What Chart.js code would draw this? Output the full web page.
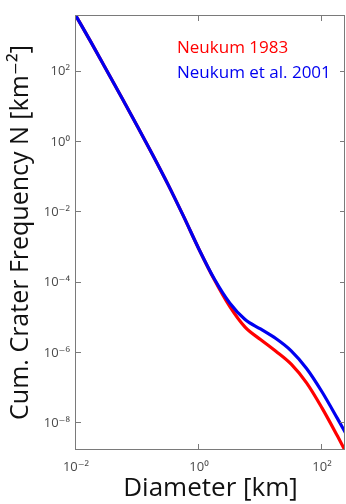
<!DOCTYPE html>
<html>
<head>
<meta charset="utf-8">
<script src="https://cdn.jsdelivr.net/npm/chart.js@4/dist/chart.umd.min.js"></script>
<style>
  html, body { margin: 0; padding: 0; background: #fff; }
  #wrap { width: 346px; height: 504px; position: relative; }
</style>
</head>
<body>
<div id="wrap"><canvas id="craterChart"></canvas></div>
<script>
// crater diameters [km], every quarter decade
const diameters = [0.01, 0.0178, 0.0316, 0.0562, 0.1, 0.178, 0.316, 0.562, 1, 1.78, 3.16, 5.62, 10, 17.8, 31.6, 56.2, 100, 178, 251];

// cumulative crater frequency N [km^-2]
const neukum1983 = [3.8e3, 6.5e2, 1.07e2, 17.4, 2.75, 0.417, 6.0e-2, 7.6e-3, 8.9e-4, 1.2e-4, 2.1e-5, 5.4e-6, 2.4e-6, 1.12e-6, 4.8e-7, 1.41e-7, 2.75e-8, 4.4e-9, 1.41e-9];
const neukum2001 = [3.8e3, 6.5e2, 1.07e2, 17.4, 2.75, 0.417, 6.0e-2, 7.6e-3, 8.9e-4, 1.26e-4, 2.63e-5, 8.9e-6, 4.8e-6, 2.57e-6, 1.15e-6, 3.63e-7, 7.9e-8, 1.38e-8, 4.7e-9];

const seriesLabels = ["Neukum 1983", "Neukum et al. 2001"];
const seriesColors = ["#ff0000", "#0000f0"];

const xTickValues = [0.01, 1, 100];
const xTickLabels = ["10\u207B\u00B2", "10\u2070", "10\u00B2"];
const yTickValues = [1e-8, 1e-6, 1e-4, 1e-2, 1, 100];
const yTickLabels = ["10\u207B\u2078", "10\u207B\u2076", "10\u207B\u2074", "10\u207B\u00B2", "10\u2070", "10\u00B2"];

const FONT = '"Open Sans", "DejaVu Sans", sans-serif';

/* ==================== FRAME + INWARD TICKS + LEGEND ==================== */
const framePlugin = {
  id: "frame",
  afterDraw(chart) {
    const { ctx, chartArea: a, scales } = chart;
    const tick = 5;
    ctx.save();
    ctx.strokeStyle = "#7a7a7a";
    ctx.lineWidth = 1;
    ctx.strokeRect(a.left - 0.5, a.top - 0.5, a.right - a.left, a.bottom - a.top + 1);

    ctx.beginPath();
    xTickValues.forEach((v) => {
      const px = Math.round(scales.x.getPixelForValue(v)) - 0.5;
      ctx.moveTo(px, a.bottom);
      ctx.lineTo(px, a.bottom - tick);
      ctx.moveTo(px, a.top);
      ctx.lineTo(px, a.top + tick);
    });
    yTickValues.forEach((v) => {
      const py = Math.round(scales.y.getPixelForValue(v)) - 0.5;
      ctx.moveTo(a.left, py);
      ctx.lineTo(a.left + tick, py);
      ctx.moveTo(a.right, py);
      ctx.lineTo(a.right - tick, py);
    });
    ctx.stroke();

    // legend text inside the axes, top right
    ctx.font = `17px ${FONT}`;
    ctx.textAlign = "left";
    ctx.textBaseline = "middle";
    chart.data.datasets.forEach((ds, i) => {
      ctx.fillStyle = ds.borderColor;
      ctx.fillText(ds.label, a.left + 101, a.top + 32 + i * 25);
    });
    ctx.restore();
  },
};

const ctx = document.getElementById("craterChart");
new Chart(ctx, {
  type: "line",
  data: {
    labels: diameters,
    datasets: [
      {
        label: seriesLabels[0],
        data: diameters.map((d, i) => ({ x: d, y: neukum1983[i] })),
        borderColor: seriesColors[0],
        borderWidth: 3.2,
        pointRadius: 0,
        cubicInterpolationMode: "monotone",
        fill: false,
        clip: 0,
        order: 1,
      },
      {
        label: seriesLabels[1],
        data: diameters.map((d, i) => ({ x: d, y: neukum2001[i] })),
        borderColor: seriesColors[1],
        borderWidth: 3.2,
        pointRadius: 0,
        cubicInterpolationMode: "monotone",
        fill: false,
        clip: 0,
        order: 0,
      },
    ],
  },
  options: {
    responsive: true,
    maintainAspectRatio: false,
    animation: false,
    events: [],
    layout: { padding: { top: 16, right: 1, left: 0, bottom: 0 } },
    plugins: {
      legend: { display: false },
      tooltip: { enabled: false },
    },
    scales: {
      x: {
        type: "logarithmic",
        min: 0.01,
        max: 237,
        grid: { display: false, drawTicks: false },
        border: { display: false },
        afterBuildTicks: (scale) => {
          scale.ticks = xTickValues.map((v) => ({ value: v }));
        },
        afterFit: (scale) => {
          scale.height = 55;
        },
        ticks: {
          autoSkip: false,
          maxRotation: 0,
          padding: 10,
          color: "#4a4a4a",
          font: { family: FONT, size: 13 },
          callback: (value, index) => xTickLabels[index],
        },
        title: {
          display: true,
          text: "Diameter [km]",
          color: "#111",
          font: { family: FONT, size: 26 },
          padding: { top: 0, bottom: 0 },
        },
      },
      y: {
        type: "logarithmic",
        min: 1.86e-9,
        max: 3785,
        grid: { display: false, drawTicks: false },
        border: { display: false },
        afterBuildTicks: (scale) => {
          scale.ticks = yTickValues.map((v) => ({ value: v }));
        },
        afterFit: (scale) => {
          scale.width = 76;
        },
        ticks: {
          autoSkip: false,
          padding: 6,
          color: "#4a4a4a",
          font: { family: FONT, size: 13 },
          callback: (value, index) => yTickLabels[index],
        },
        title: {
          display: true,
          text: "Cum. Crater Frequency N [km\u207B\u00B2]",
          color: "#111",
          font: { family: FONT, size: 25 },
          padding: { top: 6, bottom: 0 },
        },
      },
    },
  },
  plugins: [framePlugin],
});
</script>
</body>
</html>
